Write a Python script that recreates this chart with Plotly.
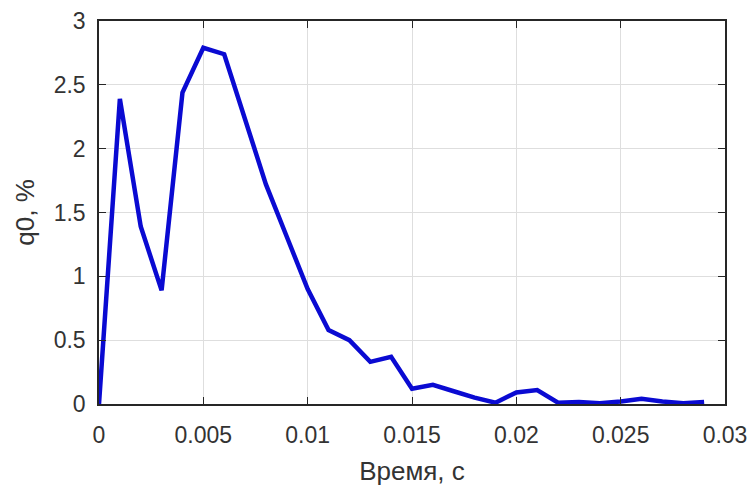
import plotly.graph_objects as go

time_s = [0.000, 0.001, 0.002, 0.003, 0.004, 0.005, 0.006, 0.007, 0.008, 0.009,
          0.010, 0.011, 0.012, 0.013, 0.014, 0.015, 0.016, 0.017, 0.018, 0.019,
          0.020, 0.021, 0.022, 0.023, 0.024, 0.025, 0.026, 0.027, 0.028, 0.029]
q0_pct = [0.00, 2.39, 1.39, 0.89, 2.44, 2.79, 2.74, 2.22, 1.72, 1.31,
          0.90, 0.58, 0.50, 0.33, 0.37, 0.12, 0.15, 0.10, 0.05, 0.01,
          0.09, 0.11, 0.01, 0.015, 0.005, 0.02, 0.04, 0.02, 0.005, 0.015]

x_ticks = [0, 0.005, 0.01, 0.015, 0.02, 0.025, 0.03]
x_tick_text = ["0", "0.005", "0.01", "0.015", "0.02", "0.025", "0.03"]
y_ticks = [0, 0.5, 1, 1.5, 2, 2.5, 3]
y_tick_text = ["0", "0.5", "1", "1.5", "2", "2.5", "3"]

font_family = "Liberation Sans, Arial, sans-serif"
text_color = "#333333"

fig = go.Figure()
fig.add_trace(go.Scatter(
    x=time_s, y=q0_pct, mode="lines",
    line=dict(color="#0a0ad2", width=4.5),
    showlegend=False,
))

axis_common = dict(
    showline=True, linecolor="#262626", linewidth=1.5, mirror="ticks",
    ticks="inside", ticklen=7, tickwidth=1, tickcolor="#262626",
    showgrid=True, gridcolor="#dedede", gridwidth=1,
    zeroline=False, automargin=False, ticklabeloverflow="allow",
    tickfont=dict(family=font_family, size=23, color=text_color),
)

fig.update_xaxes(
    range=[0, 0.03], tickvals=x_ticks, ticktext=x_tick_text,
    title=dict(text="Время, с", font=dict(family=font_family, size=26, color=text_color), standoff=14),
    ticklabelstandoff=10,
    **axis_common,
)
fig.update_yaxes(
    range=[0, 3], tickvals=y_ticks, ticktext=y_tick_text,
    title=dict(text="q0, %", font=dict(family=font_family, size=26, color=text_color), standoff=12),
    ticklabelstandoff=7,
    **axis_common,
)

fig.update_layout(
    width=748, height=482,
    margin=dict(l=91, r=31, t=13, b=86),
    paper_bgcolor="white", plot_bgcolor="white",
)

fig.write_html("out.html")
